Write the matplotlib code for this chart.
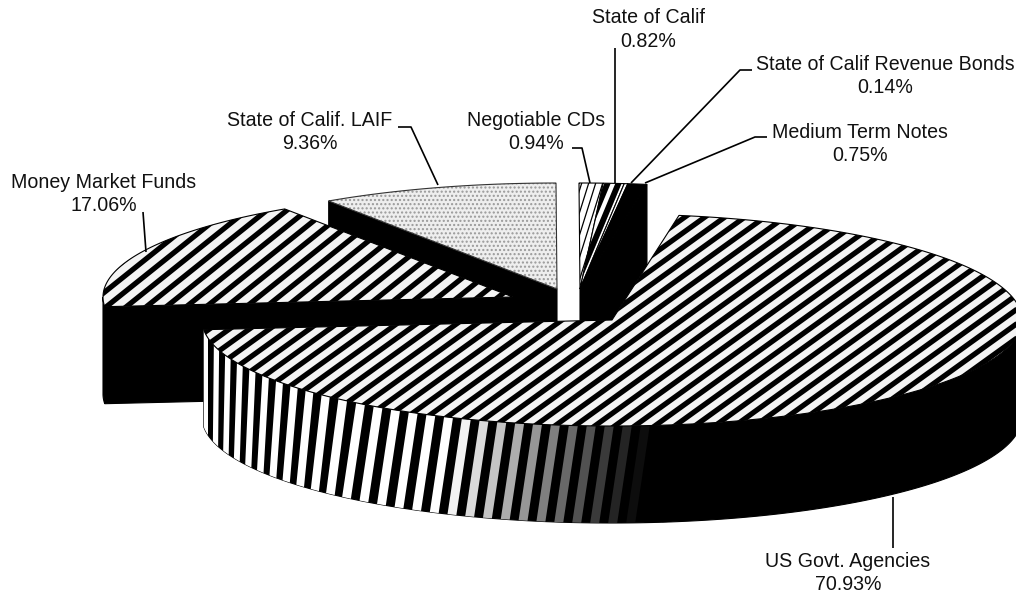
import numpy as np
import matplotlib
matplotlib.use("Agg")
import matplotlib.pyplot as plt
from matplotlib.patches import Polygon
from matplotlib.collections import LineCollection

plt.rcParams['font.family'] = ['Liberation Sans', 'DejaVu Sans']

# clockwise from the top right edge of the big slice
names = ["US Govt. Agencies", "Money Market Funds", "State of Calif. LAIF", "Negotiable CDs",
         "State of Calif", "State of Calif Revenue Bonds", "Medium Term Notes"]
shares = [70.93, 17.06, 9.36, 0.94, 0.82, 0.14, 0.75]
share_labels = ["70.93%", "17.06%", "9.36%", "0.94%", "0.82%", "0.14%", "0.75%"]

# pie geometry, in pixels
start_angle = 80.6
rx, ry = 410, 106
depth = 97
apex = [(612, 320), (513, 297), (557, 289), (580, 289), (580, 289), (580, 289), (580, 289)]

# label centre and leader line for each slice
label_xy = [(848, 573), (104, 194), (310, 132), (536, 132), (648, 29.5), (885, 76), (860, 144)]
leaders = [[(893, 497), (893, 548)],
           [(146, 252), (143, 212)],
           [(438, 185), (411, 127), (398, 127)],
           [(590, 183), (582, 148), (572, 148)],
           [(615, 183), (615, 48)],
           [(631, 183), (740, 70), (752, 70)],
           [(645, 183), (755, 137), (767, 137)]]


def rim(i, t):
    t = np.radians(t)
    return np.column_stack([apex[i][0] + rx*np.cos(t), apex[i][1] - ry*np.sin(t)])


def wedge_pts(i, t1, t2):
    arc = rim(i, np.linspace(t1, t2, 400))
    return np.vstack([[apex[i]], arc])


def stripes(ax, patch, slope, period, lw, color="black", phase=0):
    segs = [[(c, 595), (c + 595/slope, 0)] for c in np.arange(-1500 + phase, 1600, period)]
    lc = LineCollection(segs, colors=color, linewidths=lw, zorder=patch.get_zorder() + 0.1)
    ax.add_collection(lc)
    lc.set_clip_path(patch)


def cut_face(ax, i, t, z):
    p = rim(i, t)[0]
    a = apex[i]
    ax.add_patch(Polygon([a, p, (p[0], p[1]+depth), (a[0], a[1]+depth)], closed=True,
                         fc="black", ec="black", lw=0.8, zorder=z))


fig = plt.figure(figsize=(10.16, 5.95), dpi=100)
ax = fig.add_axes([0, 0, 1, 1])
ax.set_xlim(0, 1016)
ax.set_ylim(595, 0)
ax.axis("off")

# slice boundaries from the shares
sweep = np.array(shares)/sum(shares)*360
t1 = (start_angle - np.concatenate([[0], np.cumsum(sweep)[:-1]])) % 360
t2 = t1 - sweep

# back slices: cut faces first
cut_face(ax, 2, t1[2], 1)
cut_face(ax, 6, t2[6], 1)
cut_face(ax, 1, t1[1], 3)

# small bit of money market outer wall on the far left
left = rim(1, np.linspace(t1[1], 180, 20))
ax.add_patch(Polygon(np.vstack([left, (left + (0, depth))[::-1]]), closed=True,
                     fc="black", ec="black", lw=0.8, zorder=3))

# top faces of the back slices
p = Polygon(wedge_pts(2, t1[2], t2[2]), closed=True, fc="#eeeeee", ec="#999999", lw=0,
            hatch="....", zorder=2)
ax.add_patch(p)
ax.add_patch(Polygon(wedge_pts(2, t1[2], t2[2]), closed=True, fc="none", ec="#333333", lw=0.8, zorder=2.1))

p = Polygon(wedge_pts(3, t1[3], t2[3]), closed=True, fc="white", ec="black", lw=0.8, zorder=2)
ax.add_patch(p)
stripes(ax, p, 3.2, 7, 0.9)

p = Polygon(wedge_pts(4, t1[4], t2[4]), closed=True, fc="white", ec="black", lw=0.8, zorder=2)
ax.add_patch(p)
stripes(ax, p, 2.4, 11, 4.2)

p = Polygon(wedge_pts(5, t1[5], t2[5]), closed=True, fc="white", ec="black", lw=0.8, zorder=2)
ax.add_patch(p)

p = Polygon(wedge_pts(6, t1[6], t2[6]), closed=True, fc="black", ec="black", lw=0.8, zorder=2)
ax.add_patch(p)

p = Polygon(wedge_pts(1, t1[1], t2[1]), closed=True, fc="#f4f4f4", ec="black", lw=0.8, zorder=4)
ax.add_patch(p)
stripes(ax, p, 0.8, 20, 3.8, phase=6)

# big slice: outer wall, black with fading vertical stripes
front_t = np.linspace(t2[0] + 360, 360, 200)
top = rim(0, front_t)
wall = Polygon(np.vstack([top, (top + (0, depth))[::-1]]), closed=True, fc="black", ec="black",
               lw=0.8, zorder=6)
ax.add_patch(wall)
x = 203.0
while x < 680:
    tilt = min(0.15, (x - 203)/150*0.15)
    period = 10 + min(8, (x - 203)/135*8)
    w = period*0.5
    shade = np.clip((650 - x)/200, 0, 1)
    stripe = Polygon([(x + 110*tilt, 320), (x + 110*tilt + w, 320), (x - 120*tilt + w, 550), (x - 120*tilt, 550)],
                     closed=True, fc=str(shade), ec="none", zorder=6.1)
    ax.add_patch(stripe)
    stripe.set_clip_path(wall)
    x += period

p = Polygon(wedge_pts(0, t1[0], t2[0]), closed=True, fc="#f4f4f4", ec="black", lw=0.8, zorder=7)
ax.add_patch(p)
stripes(ax, p, 0.72, 20, 3.8)

# labels and leaders
for name, share, xy, line in zip(names, share_labels, label_xy, leaders):
    ax.text(xy[0], xy[1], name + "\n" + share, ha="center", va="center", fontsize=14.1,
            color="#111111", linespacing=1.3, zorder=10)
    pts = np.array(line)
    ax.plot(pts[:, 0], pts[:, 1], color="black", lw=1.2, zorder=9, solid_capstyle="butt")

fig.savefig("out.png", dpi=100)
